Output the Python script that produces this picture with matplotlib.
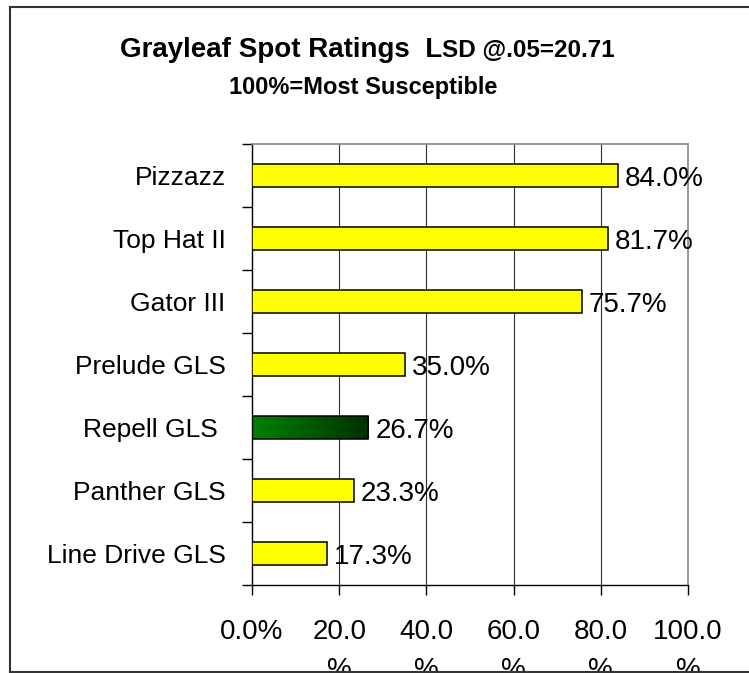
import matplotlib
matplotlib.use("Agg")
import matplotlib.pyplot as plt
import numpy as np
from matplotlib.colors import LinearSegmentedColormap
from matplotlib.transforms import Bbox, TransformedBbox
from matplotlib.lines import Line2D

categories = ["Pizzazz", "Top Hat II", "Gator III", "Prelude GLS", "Repell GLS ", "Panther GLS", "Line Drive GLS"]
values = [84.0, 81.7, 75.7, 35.0, 26.7, 23.3, 17.3]
value_labels = ["84.0%", "81.7%", "75.7%", "35.0%", "26.7%", "23.3%", "17.3%"]
x_ticks = [0, 20, 40, 60, 80, 100]
x_tick_labels = ["0.0%", "20.0\n%", "40.0\n%", "60.0\n%", "80.0\n%", "100.0\n%"]
highlight = "Repell GLS "

plt.rcParams['font.family'] = ['Liberation Sans', 'DejaVu Sans']

W, H = 749, 673
fig = plt.figure(figsize=(W / 100, H / 100), dpi=100)
ax = fig.add_axes([252 / W, 1 - 585 / H, (688 - 252) / W, (585 - 144) / H])

n = len(categories)
ypos = np.arange(n)
bars = ax.barh(ypos, values, height=0.38, color="#FFFF00", edgecolor="black",
               linewidth=1.1, zorder=3)

# gradient bar
cmap = LinearSegmentedColormap.from_list("g", ["#008200", "#003000"])
for b, c in zip(bars, categories):
    if c == highlight:
        b.set_facecolor("none")
        x0, y0, w, h = b.get_x(), b.get_y(), b.get_width(), b.get_height()
        grad = np.linspace(0, 1, 256).reshape(1, -1)
        im = ax.imshow(grad, cmap=cmap, aspect="auto",
                       extent=(x0, x0 + w, y0 + h, y0), zorder=2.5,
                       interpolation="bilinear")
        im.set_clip_path(b)
ax.set_xlim(0, 100)
ax.set_ylim(n - 0.5, -0.5)

FS = 20
# value labels
for v, lab, y in zip(values, value_labels, ypos):
    ax.annotate(lab, (v, y), xytext=(5, 0), textcoords="offset points",
                ha="left", va="center_baseline", fontsize=FS, zorder=5)

# grid
for xv in x_ticks[1:-1]:
    ax.axvline(xv, color="#303030", lw=0.8, zorder=1)

for s in ["top", "right"]:
    ax.spines[s].set_color("#888888")
    ax.spines[s].set_linewidth(1.2)
for s in ["left", "bottom"]:
    ax.spines[s].set_color("black")
    ax.spines[s].set_linewidth(1.0)

ax.set_yticks(np.arange(-0.5, n, 1.0))
ax.set_yticklabels([])
ax.set_yticks(ypos, minor=True)
ax.set_yticklabels(categories, minor=True, fontsize=19)
ax.tick_params(axis="y", which="major", length=7.5, width=1, direction="out")
ax.tick_params(axis="y", which="minor", length=0, pad=19)

ax.set_xticks(x_ticks)
ax.set_xticklabels(x_tick_labels, fontsize=FS, linespacing=1.6, va="top")
ax.tick_params(axis="x", length=7.5, width=1, direction="out", pad=17)

clipbox = TransformedBbox(Bbox([[0, 1.5 / H], [1, 1]]), fig.transFigure)
for t in ax.get_xticklabels():
    t.set_clip_on(True)
    t.set_clip_box(clipbox)

# title
fig.canvas.draw()
r = fig.canvas.get_renderer()
ty = 1 - 57 / H
t1 = fig.text(0, ty, "Grayleaf Spot Ratings  L", fontsize=20, fontweight="bold",
              ha="left", va="baseline")
t2 = fig.text(0, ty, "SD @.05=20.71", fontsize=17.5, fontweight="bold",
              ha="left", va="baseline")
w1 = t1.get_window_extent(r).width
w2 = t2.get_window_extent(r).width
x_start = (367 - (w1 + w2) / 2)
t1.set_x(x_start / W)
t2.set_x((x_start + w1) / W)
fig.text(363 / W, 1 - 94 / H, "100%=Most Susceptible", fontsize=17, fontweight="bold",
         ha="center", va="baseline")

# chart border
lc = "#333333"
fig.add_artist(Line2D([9.5 / W, 1], [1 - 6.5 / H, 1 - 6.5 / H], transform=fig.transFigure, color=lc, lw=1.5))
fig.add_artist(Line2D([9.5 / W, 9.5 / W], [1 - 6.5 / H, 1 - 671.5 / H], transform=fig.transFigure, color=lc, lw=1.5))
fig.add_artist(Line2D([9.5 / W, 1], [1 - 671.5 / H, 1 - 671.5 / H], transform=fig.transFigure, color=lc, lw=1.5))

fig.savefig("out.png", dpi=100)
